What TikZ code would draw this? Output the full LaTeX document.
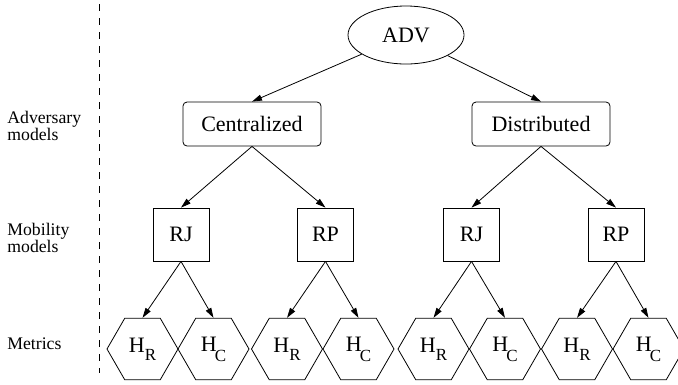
\documentclass[tikz,border=0pt]{standalone}
\usepackage{fontspec}
\setmainfont{Liberation Serif}
\usetikzlibrary{shapes, arrows.meta}

\newcommand{\subR}{H\raisebox{-8pt}{\fontsize{17}{17}\selectfont R}}
\newcommand{\subC}{H\kern-2pt\raisebox{-10pt}{\fontsize{17}{17}\selectfont C}}

\begin{document}
\begin{tikzpicture}[x=1pt, y=-1pt, line width=0.8pt, >={Triangle[length=10pt, width=6pt]},
    every node/.style={font=\fontsize{22}{24}\selectfont},
    rootnode/.style={draw, ellipse, minimum width=116pt, minimum height=58pt, inner sep=0pt},
    advbox/.style={draw, rounded corners=4pt, minimum width=138pt, minimum height=44pt, inner sep=0pt},
    mobbox/.style={draw, minimum width=56pt, minimum height=53pt, inner sep=0pt},
    metric/.style={draw, regular polygon, regular polygon sides=6, minimum size=71pt, inner sep=0pt},
    level/.style={anchor=west, align=left, inner sep=0pt, font=\fontsize{17.7}{15.5}\selectfont}]
    \useasboundingbox (0,0) rectangle (678,384);

    % 左侧说明
    \draw[dash pattern=on 7pt off 7pt] (99.5,4) -- (99.5,373);
    \node[level] (ladv) at (7,126) {Adversary\\models};
    \node[level] (lmob) at (7,238) {Mobility\\models};
    \node[level] (lmet) at (7,344) {Metrics};

    % 根节点
    \node[rootnode] (adv) at (406,35) {ADV};

    % 攻击者模型
    \node[advbox] (cen) at (252,124) {Centralized};
    \node[advbox] (dis) at (541,124) {Distributed};

    % 移动模型
    \node[mobbox] (rj1) at (181,234.5) {RJ};
    \node[mobbox] (rp1) at (325.5,234.5) {RP};
    \node[mobbox] (rj2) at (471.5,234.5) {RJ};
    \node[mobbox] (rp2) at (616,234.5) {RP};

    % 度量
    \node[metric] (h1) at (142.5,349) {\subR};
    \node[metric] (h2) at (213.5,349) {\subC};
    \node[metric] (h3) at (287,349) {\subR};
    \node[metric] (h4) at (358.5,349) {\subC};
    \node[metric] (h5) at (433.5,349) {\subR};
    \node[metric] (h6) at (505,349) {\subC};
    \node[metric] (h7) at (577,349) {\subR};
    \node[metric] (h8) at (648.5,349) {\subC};

    % 连线
    \draw[->] (adv) -- (cen.north);
    \draw[->] (adv) -- (dis.north);
    \draw[->] (cen.south) -- (rj1.north);
    \draw[->] (cen.south) -- (rp1.north);
    \draw[->] (dis.south) -- (rj2.north);
    \draw[->] (dis.south) -- (rp2.north);
    \draw[->] (rj1.south) -- (h1.north);
    \draw[->] (rj1.south) -- (h2.north);
    \draw[->] (rp1.south) -- (h3.north);
    \draw[->] (rp1.south) -- (h4.north);
    \draw[->] (rj2.south) -- (h5.north);
    \draw[->] (rj2.south) -- (h6.north);
    \draw[->] (rp2.south) -- (h7.north);
    \draw[->] (rp2.south) -- (h8.north);
\end{tikzpicture}
\end{document}
